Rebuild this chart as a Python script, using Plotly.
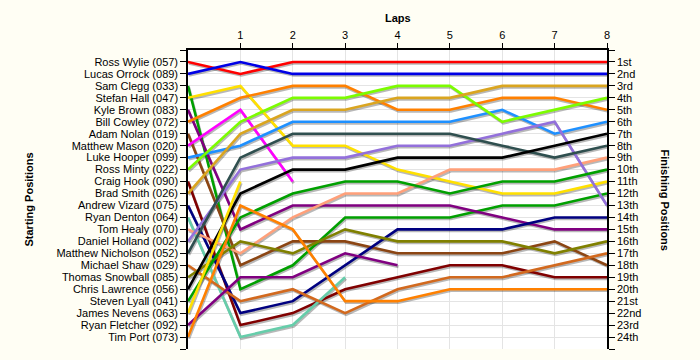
import plotly.graph_objects as go

drivers = ["Ross Wylie (057)", "Lucas Orrock (089)", "Sam Clegg (033)", "Stefan Hall (047)",
           "Kyle Brown (083)", "Bill Cowley (072)", "Adam Nolan (019)", "Matthew Mason (020)",
           "Luke Hooper (099)", "Ross Minty (022)", "Craig Hook (090)", "Brad Smith (026)",
           "Andrew Vizard (075)", "Ryan Denton (064)", "Tom Healy (070)", "Daniel Holland (002)",
           "Matthew Nicholson (052)", "Michael Shaw (029)", "Thomas Snowball (085)",
           "Chris Lawrence (056)", "Steven Lyall (041)", "James Nevens (063)",
           "Ryan Fletcher (092)", "Tim Port (073)"]

colors = ["#FF0000", "#0000E6", "#00A000", "#FFE000", "#800080", "#FF8000", "#8B4513", "#FF00FF",
          "#1E90FF", "#7CFC00", "#800000", "#DAA520", "#000080", "#66CDAA", "#FFA07A", "#9370DB",
          "#2F4F4F", "#D2691E", "#808000", "#000000", "#00A000", "#FFE000", "#800080", "#FF8000"]

laps = [0, 1, 2, 3, 4, 5, 6, 7, 8]

lap0 = [1, 2, 3, 4, 5, 6, 7, 8, 9, 10, 11, 12, 13, 14, 15, 16, 17, 18, 19, 20, 21, 22, 23, 24]
lap1 = [2, 1, 20, 3, 15, 4, 18, 5, 8, 6, 23, 7, 22, 24, 17, 10, 9, 21, 16, 12, 14, 11, 19, 13]
lap2 = [1, 2, 18, 8, 13, 3, 16, 11, 6, 4, 22, 5, 21, 23, 14, 9, 7, 20, 17, 10, 12, None, 19, 15]
lap3 = [1, 2, 14, 8, 13, 3, 16, None, 6, 4, 20, 5, 18, 19, 12, 9, 7, 22, 15, 10, 11, None, 17, 21]
lap4 = [1, 2, 14, 10, 13, 5, 17, None, 6, 3, 19, 4, 15, None, 12, 8, 7, 20, 16, 9, 11, None, 18, 21]
lap5 = [1, 2, 14, 11, 13, 5, 17, None, 6, 3, 18, 4, 15, None, 10, 8, 7, 19, 16, 9, 12, None, None, 20]
lap6 = [1, 2, 13, 12, 14, 4, 17, None, 5, 6, 18, 3, 15, None, 10, 7, 8, 19, 16, 9, 11, None, None, 20]
lap7 = [1, 2, 13, 12, 15, 4, 16, None, 7, 5, 19, 3, 14, None, 10, 6, 9, 18, 17, 8, 11, None, None, 20]
lap8 = [1, 2, 12, 11, 15, 5, 18, None, 6, 4, 19, 3, 14, None, 9, 13, 8, 17, 16, 7, 10, None, None, 20]

finish_labels = ["1st", "2nd", "3rd", "4th", "5th", "6th", "7th", "8th", "9th", "10th", "11th",
                 "12th", "13th", "14th", "15th", "16th", "17th", "18th", "19th", "20th", "21st",
                 "22nd", "23rd", "24th"]

all_laps = [lap0, lap1, lap2, lap3, lap4, lap5, lap6, lap7, lap8]
n = len(drivers)

W, H = 700, 360
ML, MR, MT, MB = 188, 93, 50, 11
px_x = 8 / (W - ML - MR)
px_y = 25 / (H - MT - MB)
BG = "#FFFEF4"

fig = go.Figure()

# shadows
for i in range(n):
    ys = [lp[i] for lp in all_laps]
    xs = [x + 1.0 * px_x for x in laps]
    ys_s = [None if y is None else y + 1.6 * px_y for y in ys]
    fig.add_trace(go.Scatter(x=xs, y=ys_s, mode="lines", line=dict(color="rgba(0,0,0,0.28)", width=2.6),
                             showlegend=False, hoverinfo="skip", connectgaps=False))
for i in range(n):
    ys = [lp[i] for lp in all_laps]
    fig.add_trace(go.Scatter(x=laps, y=ys, mode="lines", line=dict(color=colors[i], width=2.6),
                             name=drivers[i], showlegend=False, connectgaps=False))

# dummy trace for right axis
fig.add_trace(go.Scatter(x=[None], y=[None], yaxis="y2", showlegend=False, hoverinfo="skip"))

font_family = "Liberation Sans, Arial, sans-serif"
tickvals = list(range(0, 26))

fig.update_layout(
    width=W, height=H,
    margin=dict(l=ML, r=MR, t=MT, b=MB, autoexpand=False),
    paper_bgcolor=BG,
    plot_bgcolor="#FFFFFF",
    font=dict(family=font_family, size=11, color="#000000"),
    xaxis=dict(range=[0, 8], side="top", tickvals=[1, 2, 3, 4, 5, 6, 7, 8],
               ticktext=[str(v) for v in range(1, 9)], ticks="outside", ticklen=5, tickcolor="#000",
               showline=True, linecolor="#000", linewidth=1.5, showgrid=True, gridcolor="#E4E4E4",
               gridwidth=1, zeroline=False, fixedrange=True, automargin=False),
    yaxis=dict(range=[25, 0], tickvals=tickvals, ticktext=[""] + drivers + [""],
               ticks="outside", ticklen=6, tickcolor="#000", showline=True, linecolor="#000",
               linewidth=1.5, showgrid=True, gridcolor="#E4E4E4", gridwidth=1, zeroline=False,
               automargin=False),
    yaxis2=dict(range=[25, 0], tickvals=tickvals, ticktext=[""] + finish_labels + [""],
                overlaying="y", side="right", ticks="outside", ticklen=6, tickcolor="#000",
                showline=True, linecolor="#000", linewidth=1.5, showgrid=False, zeroline=False,
                automargin=False),
    annotations=[
        dict(text="<b>Laps</b>", xref="paper", yref="paper", x=0.5, y=1, yanchor="middle",
             yshift=32, showarrow=False, font=dict(size=11, family=font_family)),
        dict(text="<b>Starting Positions</b>", xref="paper", yref="paper", x=0, y=0.5,
             xanchor="center", yanchor="middle", xshift=-160, textangle=-90, showarrow=False,
             font=dict(size=11, family=font_family)),
        dict(text="<b>Finishing Positions</b>", xref="paper", yref="paper", x=1, y=0.5,
             xanchor="center", yanchor="middle", xshift=58, textangle=90, showarrow=False,
             font=dict(size=11, family=font_family)),
    ],
)

post = ("document.body.style.margin='0';document.body.style.padding='0';"
        "document.body.style.background='" + BG + "';"
        "document.documentElement.style.background='" + BG + "';")
fig.write_html("out.html", post_script=post, config={"displayModeBar": False})
